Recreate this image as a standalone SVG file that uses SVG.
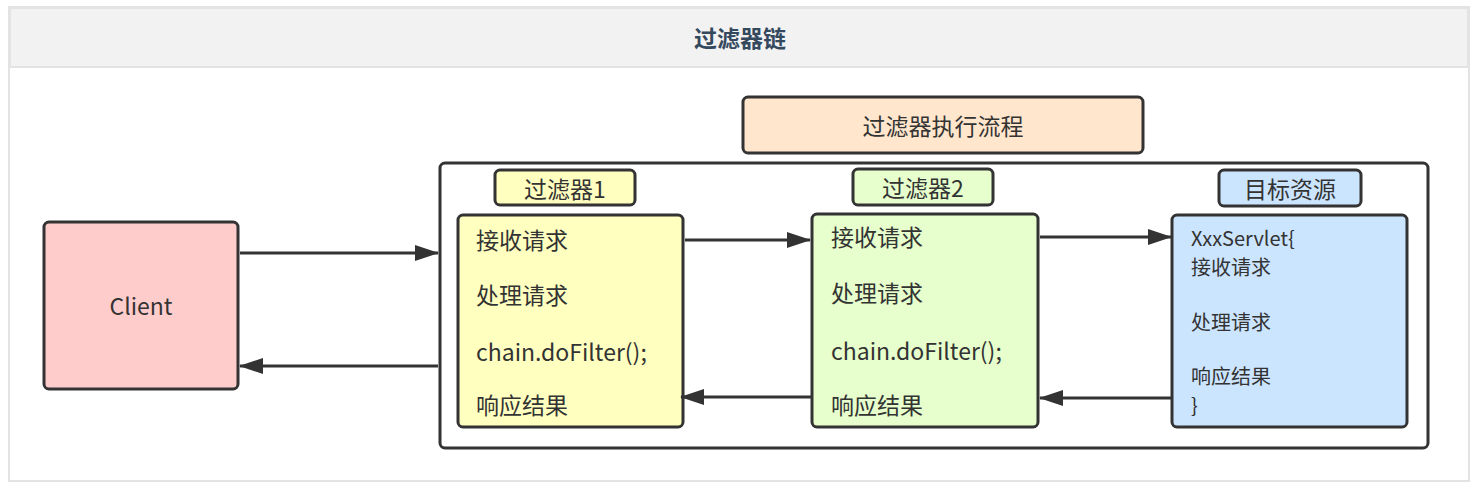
<svg xmlns="http://www.w3.org/2000/svg" width="1478" height="492" viewBox="0 0 1478 492">
<style>
.box{stroke:#333;stroke-width:3}
.t{font-family:"Noto Sans CJK SC","Noto Sans",sans-serif;font-size:23px;fill:#333}
.s{font-size:20px}
.c{text-anchor:middle;dominant-baseline:central}
.conn{stroke:#333;stroke-width:3;fill:none}
</style>
<defs>
<marker id="ah" viewBox="0 0 24 16" refX="23" refY="8" markerWidth="24" markerHeight="16" markerUnits="userSpaceOnUse" orient="auto">
<path d="M0,0 L24,8 L0,16 z" fill="#333"/>
</marker>
</defs>
<rect x="0" y="0" width="1478" height="492" fill="#fff"/>
<g id="frame">
<rect x="9" y="7" width="1460" height="474" fill="#fff" stroke="#e3e3e3" stroke-width="2"/>
<rect x="10" y="8" width="1458" height="59" fill="#f2f2f2" stroke="#e3e3e3" stroke-width="2"/>
<text x="740" y="37" class="c" font-family="Noto Sans CJK SC,sans-serif" font-size="23" font-weight="bold" fill="#34495e">过滤器链</text>
</g>
<g id="container"><rect x="440" y="163" width="988" height="285" rx="5" fill="#fff" class="box"/></g>
<g id="title"><rect x="743" y="97" width="400" height="56" rx="5" fill="#ffe6cc" class="box"/><text x="943" y="125" class="t c">过滤器执行流程</text></g>
<g id="client"><rect x="44" y="222" width="194" height="167" rx="5" fill="#ffcccc" class="box"/><text x="141" y="305" class="t c">Client</text></g>
<g id="f1label"><rect x="495" y="170" width="140" height="35" rx="5" fill="#ffffc0" class="box"/><text x="565" y="188" class="t c">过滤器1</text></g>
<g id="filter1"><rect x="458" y="215" width="225" height="212" rx="5" fill="#ffffc0" class="box"/>
<text class="t" x="476" y="249">接收请求</text>
<text class="t" x="476" y="304">处理请求</text>
<text class="t" x="476" y="361">chain.doFilter();</text>
<text class="t" x="476" y="414">响应结果</text></g>
<g id="f2label"><rect x="853" y="169" width="140" height="36" rx="5" fill="#e6ffcc" class="box"/><text x="923" y="187" class="t c">过滤器2</text></g>
<g id="filter2"><rect x="812" y="214" width="226" height="213" rx="5" fill="#e6ffcc" class="box"/>
<text class="t" x="831" y="246">接收请求</text>
<text class="t" x="831" y="302">处理请求</text>
<text class="t" x="831" y="360">chain.doFilter();</text>
<text class="t" x="831" y="414">响应结果</text></g>
<g id="tlabel"><rect x="1219" y="170" width="142" height="36" rx="5" fill="#cce5ff" class="box"/><text x="1290" y="188" class="t c">目标资源</text></g>
<g id="target"><rect x="1172" y="215" width="235" height="212" rx="5" fill="#cce5ff" class="box"/>
<text class="t s" x="1191" y="246">XxxServlet{</text>
<text class="t s" x="1191" y="275">接收请求</text>
<text class="t s" x="1191" y="330">处理请求</text>
<text class="t s" x="1191" y="384">响应结果</text>
<text class="t s" x="1191" y="413">}</text></g>
<g id="connectors">
<line x1="240" y1="253" x2="438" y2="253" class="conn" marker-end="url(#ah)"/>
<line x1="438" y1="366" x2="240" y2="366" class="conn" marker-end="url(#ah)"/>
<line x1="685" y1="240" x2="810" y2="240" class="conn" marker-end="url(#ah)"/>
<line x1="811" y1="397" x2="681" y2="397" class="conn" marker-end="url(#ah)"/>
<line x1="1040" y1="237" x2="1171" y2="237" class="conn" marker-end="url(#ah)"/>
<line x1="1171" y1="398" x2="1040" y2="398" class="conn" marker-end="url(#ah)"/>
</g>
</svg>
